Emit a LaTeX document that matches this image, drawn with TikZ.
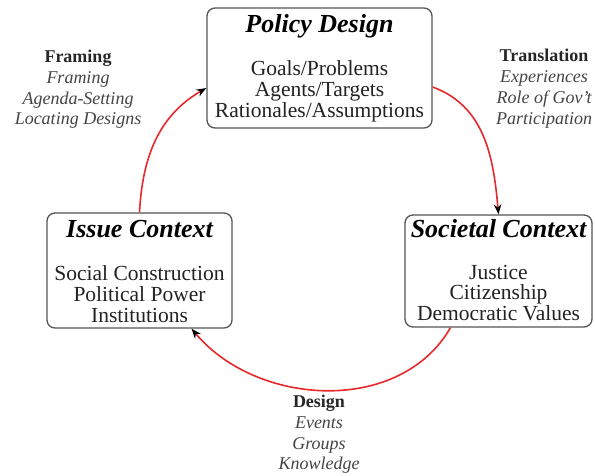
\documentclass[tikz,border=0pt]{standalone}
\usepackage{fontspec}
\setmainfont{Liberation Serif}
\usetikzlibrary{arrows.meta}
\definecolor{boxline}{HTML}{555555}
\definecolor{bodytext}{HTML}{222222}
\definecolor{labeltext}{HTML}{444444}
\definecolor{arcred}{HTML}{E8282B}
\begin{document}
\begin{tikzpicture}[x=1pt,y=1pt,
 box/.style={draw=boxline, line width=1.3pt, rounded corners=8pt, inner sep=0pt},
 ttl/.style={anchor=base, font=\fontsize{26}{26}\selectfont\bfseries\itshape, text=black, inner sep=0pt},
 bodyline/.style={anchor=base, font=\fontsize{21.5}{21.5}\selectfont, text=bodytext, inner sep=0pt},
 lhead/.style={anchor=base, font=\fontsize{18}{18}\selectfont\bfseries, text=black!85, inner sep=0pt},
 litem/.style={anchor=base, font=\fontsize{18}{18}\selectfont\itshape, text=labeltext, inner sep=0pt},
 cyclearc/.style={draw=arcred, line width=1.6pt, -{Stealth[color=black,length=10pt,width=7.5pt]}}
]
\useasboundingbox (0,0) rectangle (595,-475);

% boxes
\node[box, minimum width=225pt, minimum height=120pt] (pd) at (319.5,-68) {};
\node[box, minimum width=185pt, minimum height=115pt] (ic) at (139.5,-270.5) {};
\node[box, minimum width=187pt, minimum height=112pt] (sc) at (498.5,-271) {};

% Policy Design text
\node[ttl] (pdt) at (319.5,-32) {Policy Design};
\node[bodyline] (pd1) at (319.5,-75) {Goals/Problems};
\node[bodyline] (pd2) at (319.5,-96) {Agents/Targets};
\node[bodyline] (pd3) at (319.5,-117) {Rationales/Assumptions};

% Issue Context text
\node[ttl] (ict) at (139.5,-237) {Issue Context};
\node[bodyline] (ic1) at (139.5,-280) {Social Construction};
\node[bodyline] (ic2) at (139.5,-301) {Political Power};
\node[bodyline] (ic3) at (139.5,-322) {Institutions};

% Societal Context text
\node[ttl] (sct) at (498.5,-237) {Societal Context};
\node[bodyline] (sc1) at (498.5,-279) {Justice};
\node[bodyline] (sc2) at (498.5,-299) {Citizenship};
\node[bodyline] (sc3) at (498.5,-320) {Democratic Values};

% Framing label
\node[lhead] (fr0) at (78,-62) {Framing};
\node[litem] (fr1) at (78,-83) {Framing};
\node[litem] (fr2) at (78,-104) {Agenda-Setting};
\node[litem] (fr3) at (78,-124) {Locating Designs};

% Translation label
\node[lhead] (tr0) at (544,-61) {Translation};
\node[litem] (tr1) at (544,-82) {Experiences};
\node[litem] (tr2) at (544,-103) {Role of Gov't};
\node[litem] (tr3) at (544,-124) {Participation};

% Design label
\node[lhead] (de0) at (319,-407) {Design};
\node[litem] (de1) at (319,-428) {Events};
\node[litem] (de2) at (319,-449) {Groups};
\node[litem] (de3) at (319,-469) {Knowledge};

% arcs
\draw[cyclearc] (ic.north) to[out=87,in=210] ([yshift=-20pt]pd.west);
\draw[cyclearc] ([yshift=-19pt]pd.east) to[out=-20,in=95] (sc.north);
\draw[cyclearc] ([xshift=-48pt]sc.south) to[out=-120,in=-50] ([xshift=52pt]ic.south);
\end{tikzpicture}
\end{document}
